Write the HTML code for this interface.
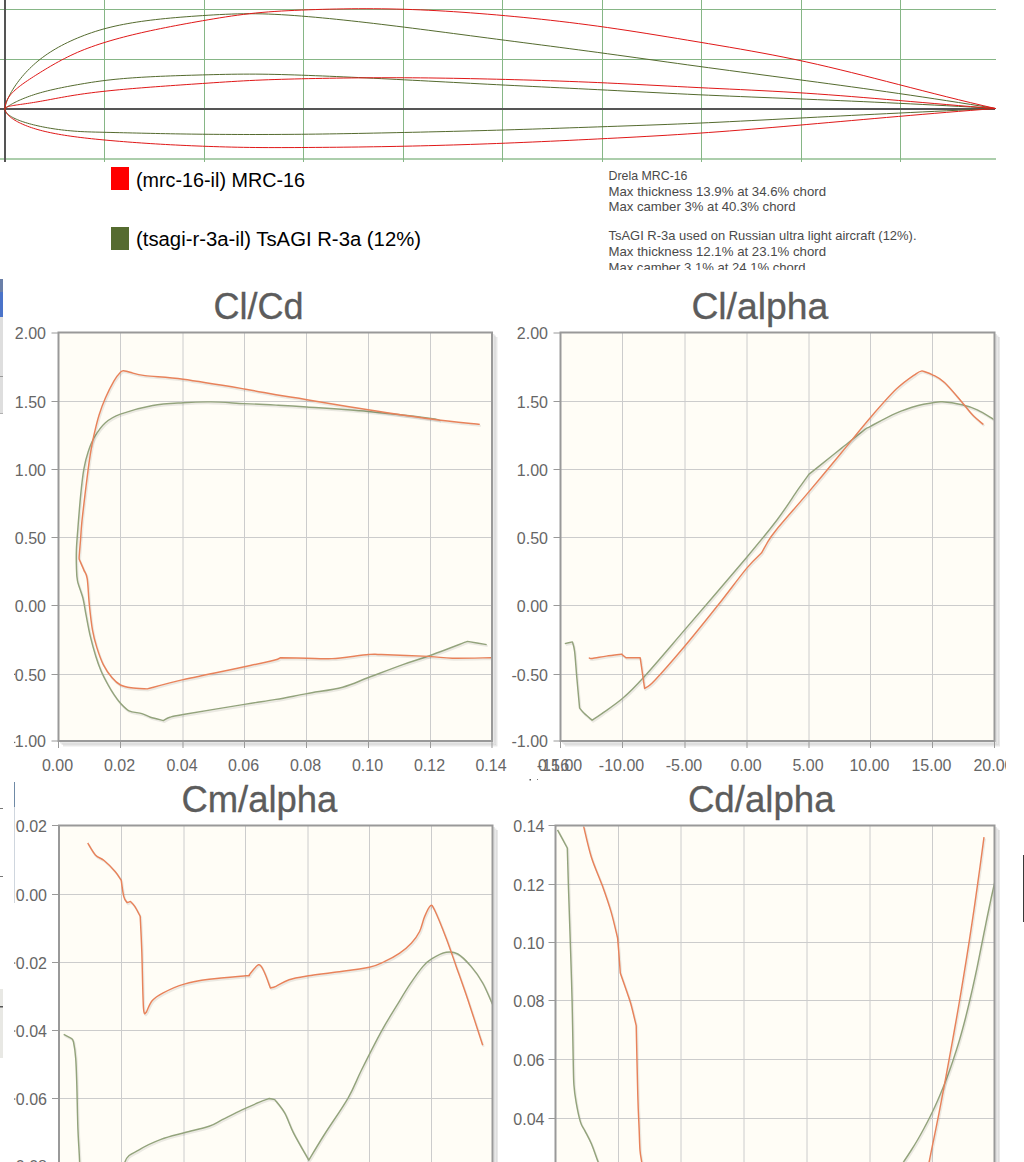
<!DOCTYPE html>
<html><head><meta charset="utf-8"><title>Airfoil comparison</title>
<style>
html,body{margin:0;padding:0;background:#fff;width:1024px;height:1162px;overflow:hidden;}
svg{display:block;font-family:"Liberation Sans",sans-serif;}
</style></head><body>
<svg width="1024" height="1162" viewBox="0 0 1024 1162">
<g id="airfoil">
<line x1="0" y1="9.5" x2="996" y2="9.5" stroke="#86b686" stroke-width="1"/>
<line x1="0" y1="59.5" x2="996" y2="59.5" stroke="#86b686" stroke-width="1"/>
<line x1="0" y1="159" x2="996" y2="159" stroke="#acceac" stroke-width="2"/>
<line x1="104.5" y1="0" x2="104.5" y2="162" stroke="#86b686" stroke-width="1"/>
<line x1="204.5" y1="0" x2="204.5" y2="162" stroke="#86b686" stroke-width="1"/>
<line x1="303.5" y1="0" x2="303.5" y2="162" stroke="#86b686" stroke-width="1"/>
<line x1="403.5" y1="0" x2="403.5" y2="162" stroke="#86b686" stroke-width="1"/>
<line x1="502.5" y1="0" x2="502.5" y2="162" stroke="#86b686" stroke-width="1"/>
<line x1="602.5" y1="0" x2="602.5" y2="162" stroke="#86b686" stroke-width="1"/>
<line x1="701.5" y1="0" x2="701.5" y2="162" stroke="#86b686" stroke-width="1"/>
<line x1="801.5" y1="0" x2="801.5" y2="162" stroke="#86b686" stroke-width="1"/>
<line x1="900.5" y1="0" x2="900.5" y2="162" stroke="#86b686" stroke-width="1"/>
<line x1="0" y1="109" x2="995" y2="109" stroke="#555555" stroke-width="2"/>
<line x1="5" y1="0" x2="5" y2="162" stroke="#555555" stroke-width="2"/>
<path d="M5,109 L5.04,108.13 L5.16,107.17 L5.35,106.11 L5.63,104.97 L5.98,103.74 L6.41,102.44 L6.92,101.06 L7.51,99.62 L8.17,98.11 L8.92,96.53 L9.74,94.91 L10.64,93.23 L11.62,91.5 L12.68,89.73 L13.82,87.92 L15.03,86.08 L16.32,84.21 L17.69,82.31 L19.14,80.39 L20.67,78.46 L22.28,76.51 L23.96,74.56 L25.73,72.6 L27.57,70.65 L29.49,68.7 L31.49,66.76 L33.56,64.84 L35.72,62.93 L37.95,61.05 L40.26,59.19 L42.65,57.37 L45.12,55.58 L47.67,53.82 L50.29,52.1 L53,50.4 L55.78,48.74 L58.64,47.11 L61.58,45.52 L64.59,43.96 L67.69,42.43 L70.86,40.94 L74.11,39.48 L77.44,38.05 L80.85,36.66 L84.34,35.3 L87.9,33.99 L91.55,32.71 L95.27,31.48 L99.07,30.3 L102.95,29.18 L106.91,28.11 L110.94,27.1 L115.06,26.14 L119.25,25.23 L123.52,24.38 L127.87,23.57 L132.29,22.81 L136.8,22.09 L141.38,21.41 L146.05,20.77 L150.79,20.16 L155.61,19.59 L160.5,19.05 L165.48,18.54 L170.53,18.06 L175.67,17.6 L180.88,17.16 L186.17,16.75 L191.53,16.35 L196.98,15.97 L202.5,15.6 L208.11,15.24 L213.79,14.9 L219.55,14.58 L225.39,14.3 L231.3,14.07 L237.3,13.89 L243.37,13.77 L249.52,13.72 L255.75,13.75 L262.06,13.86 L268.44,14.07 L274.91,14.34 L281.45,14.69 L288.07,15.1 L294.77,15.57 L301.55,16.09 L308.41,16.66 L315.34,17.26 L322.35,17.91 L329.45,18.59 L336.62,19.32 L343.86,20.07 L351.19,20.86 L358.6,21.68 L366.08,22.54 L373.64,23.42 L381.28,24.33 L389,25.27 L396.8,26.23 L404.67,27.21 L412.62,28.21 L420.66,29.24 L428.77,30.28 L436.96,31.35 L445.22,32.42 L453.57,33.52 L461.99,34.62 L470.49,35.74 L479.07,36.87 L487.73,38 L496.47,39.15 L505.28,40.3 L514.18,41.45 L523.15,42.62 L532.2,43.79 L541.33,44.98 L550.54,46.17 L559.82,47.39 L569.19,48.62 L578.63,49.87 L588.15,51.13 L597.75,52.42 L607.43,53.74 L617.18,55.08 L627.02,56.43 L636.93,57.81 L646.92,59.2 L656.99,60.6 L667.14,62.02 L677.36,63.43 L687.67,64.86 L698.05,66.28 L708.51,67.7 L719.05,69.12 L729.67,70.54 L740.36,71.97 L751.14,73.39 L761.99,74.83 L772.92,76.28 L783.93,77.73 L795.02,79.2 L806.18,80.69 L817.43,82.2 L828.75,83.72 L840.15,85.27 L851.63,86.85 L863.19,88.45 L874.83,90.08 L886.54,91.74 L898.33,93.44 L910.21,95.17 L922.16,96.94 L934.18,98.75 L946.29,100.61 L958.48,102.51 L970.74,104.45 L983.08,106.45 L995.5,108.5" fill="none" stroke="#556b2f" stroke-width="1"/>
<path d="M5,109 L5.04,108.86 L5.16,108.68 L5.35,108.45 L5.63,108.18 L5.98,107.87 L6.41,107.52 L6.92,107.13 L7.51,106.71 L8.17,106.26 L8.92,105.77 L9.74,105.26 L10.64,104.72 L11.62,104.16 L12.68,103.58 L13.82,102.97 L15.03,102.35 L16.32,101.71 L17.69,101.05 L19.14,100.38 L20.67,99.7 L22.28,99.02 L23.96,98.32 L25.73,97.63 L27.57,96.93 L29.49,96.22 L31.49,95.52 L33.56,94.83 L35.72,94.13 L37.95,93.45 L40.26,92.78 L42.65,92.11 L45.12,91.46 L47.67,90.81 L50.29,90.17 L53,89.55 L55.78,88.92 L58.64,88.31 L61.58,87.7 L64.59,87.09 L67.69,86.49 L70.86,85.89 L74.11,85.29 L77.44,84.7 L80.85,84.1 L84.34,83.51 L87.9,82.92 L91.55,82.34 L95.27,81.78 L99.07,81.24 L102.95,80.72 L106.91,80.23 L110.94,79.77 L115.06,79.34 L119.25,78.94 L123.52,78.56 L127.87,78.21 L132.29,77.88 L136.8,77.57 L141.38,77.29 L146.05,77.02 L150.79,76.77 L155.61,76.53 L160.5,76.31 L165.48,76.11 L170.53,75.91 L175.67,75.73 L180.88,75.55 L186.17,75.39 L191.53,75.22 L196.98,75.07 L202.5,74.92 L208.11,74.77 L213.79,74.62 L219.55,74.49 L225.39,74.36 L231.3,74.26 L237.3,74.18 L243.37,74.13 L249.52,74.11 L255.75,74.12 L262.06,74.18 L268.44,74.27 L274.91,74.4 L281.45,74.56 L288.07,74.74 L294.77,74.95 L301.55,75.18 L308.41,75.43 L315.34,75.69 L322.35,75.96 L329.45,76.25 L336.62,76.56 L343.86,76.88 L351.19,77.21 L358.6,77.55 L366.08,77.9 L373.64,78.27 L381.28,78.65 L389,79.03 L396.8,79.43 L404.67,79.84 L412.62,80.25 L420.66,80.67 L428.77,81.1 L436.96,81.54 L445.22,81.98 L453.57,82.42 L461.99,82.87 L470.49,83.32 L479.07,83.77 L487.73,84.22 L496.47,84.67 L505.28,85.12 L514.18,85.56 L523.15,86 L532.2,86.44 L541.33,86.89 L550.54,87.34 L559.82,87.79 L569.19,88.24 L578.63,88.71 L588.15,89.18 L597.75,89.66 L607.43,90.15 L617.18,90.65 L627.02,91.16 L636.93,91.68 L646.92,92.19 L656.99,92.71 L667.14,93.22 L677.36,93.73 L687.67,94.23 L698.05,94.72 L708.51,95.19 L719.05,95.65 L729.67,96.11 L740.36,96.55 L751.14,96.99 L761.99,97.43 L772.92,97.87 L783.93,98.31 L795.02,98.76 L806.18,99.21 L817.43,99.67 L828.75,100.15 L840.15,100.63 L851.63,101.13 L863.19,101.64 L874.83,102.17 L886.54,102.71 L898.33,103.27 L910.21,103.85 L922.16,104.45 L934.18,105.06 L946.29,105.7 L958.48,106.37 L970.74,107.05 L983.08,107.76 L995.5,108.5" fill="none" stroke="#556b2f" stroke-width="1"/>
<path d="M5,109 L5.04,109.59 L5.16,110.19 L5.35,110.79 L5.63,111.39 L5.98,111.99 L6.41,112.59 L6.92,113.2 L7.51,113.8 L8.17,114.41 L8.92,115.01 L9.74,115.62 L10.64,116.22 L11.62,116.82 L12.68,117.42 L13.82,118.02 L15.03,118.61 L16.32,119.2 L17.69,119.79 L19.14,120.37 L20.67,120.95 L22.28,121.52 L23.96,122.09 L25.73,122.65 L27.57,123.2 L29.49,123.75 L31.49,124.29 L33.56,124.82 L35.72,125.34 L37.95,125.85 L40.26,126.36 L42.65,126.85 L45.12,127.33 L47.67,127.8 L50.29,128.25 L53,128.69 L55.78,129.11 L58.64,129.5 L61.58,129.88 L64.59,130.23 L67.69,130.55 L70.86,130.84 L74.11,131.11 L77.44,131.35 L80.85,131.55 L84.34,131.72 L87.9,131.86 L91.55,131.98 L95.27,132.08 L99.07,132.17 L102.95,132.26 L106.91,132.36 L110.94,132.45 L115.06,132.55 L119.25,132.65 L123.52,132.75 L127.87,132.85 L132.29,132.96 L136.8,133.06 L141.38,133.17 L146.05,133.27 L150.79,133.37 L155.61,133.48 L160.5,133.58 L165.48,133.67 L170.53,133.77 L175.67,133.86 L180.88,133.94 L186.17,134.02 L191.53,134.1 L196.98,134.17 L202.5,134.23 L208.11,134.29 L213.79,134.34 L219.55,134.39 L225.39,134.42 L231.3,134.45 L237.3,134.48 L243.37,134.49 L249.52,134.5 L255.75,134.5 L262.06,134.49 L268.44,134.48 L274.91,134.46 L281.45,134.42 L288.07,134.38 L294.77,134.33 L301.55,134.27 L308.41,134.2 L315.34,134.11 L322.35,134.02 L329.45,133.92 L336.62,133.8 L343.86,133.68 L351.19,133.55 L358.6,133.41 L366.08,133.27 L373.64,133.12 L381.28,132.96 L389,132.8 L396.8,132.63 L404.67,132.46 L412.62,132.29 L420.66,132.11 L428.77,131.92 L436.96,131.73 L445.22,131.54 L453.57,131.33 L461.99,131.12 L470.49,130.9 L479.07,130.68 L487.73,130.44 L496.47,130.19 L505.28,129.93 L514.18,129.66 L523.15,129.38 L532.2,129.1 L541.33,128.8 L550.54,128.5 L559.82,128.19 L569.19,127.87 L578.63,127.55 L588.15,127.22 L597.75,126.9 L607.43,126.56 L617.18,126.23 L627.02,125.89 L636.93,125.54 L646.92,125.18 L656.99,124.81 L667.14,124.43 L677.36,124.02 L687.67,123.6 L698.05,123.15 L708.51,122.68 L719.05,122.19 L729.67,121.67 L740.36,121.14 L751.14,120.59 L761.99,120.04 L772.92,119.47 L783.93,118.89 L795.02,118.31 L806.18,117.73 L817.43,117.15 L828.75,116.57 L840.15,115.99 L851.63,115.41 L863.19,114.84 L874.83,114.26 L886.54,113.68 L898.33,113.11 L910.21,112.53 L922.16,111.95 L934.18,111.38 L946.29,110.8 L958.48,110.23 L970.74,109.65 L983.08,109.08 L995.5,108.5" fill="none" stroke="#556b2f" stroke-width="1"/>
<path d="M5,109 L5.04,107.7 L5.16,106.43 L5.35,105.19 L5.63,103.96 L5.98,102.76 L6.41,101.57 L6.92,100.39 L7.51,99.23 L8.17,98.08 L8.92,96.94 L9.74,95.8 L10.64,94.67 L11.62,93.54 L12.68,92.41 L13.82,91.28 L15.03,90.14 L16.32,88.99 L17.69,87.83 L19.14,86.67 L20.67,85.49 L22.28,84.29 L23.96,83.07 L25.73,81.84 L27.57,80.58 L29.49,79.3 L31.49,77.99 L33.56,76.65 L35.72,75.28 L37.95,73.88 L40.26,72.44 L42.65,70.96 L45.12,69.46 L47.67,67.92 L50.29,66.37 L53,64.8 L55.78,63.22 L58.64,61.64 L61.58,60.06 L64.59,58.49 L67.69,56.93 L70.86,55.39 L74.11,53.88 L77.44,52.39 L80.85,50.94 L84.34,49.53 L87.9,48.16 L91.55,46.82 L95.27,45.51 L99.07,44.23 L102.95,42.99 L106.91,41.76 L110.94,40.56 L115.06,39.39 L119.25,38.23 L123.52,37.1 L127.87,35.98 L132.29,34.88 L136.8,33.8 L141.38,32.74 L146.05,31.69 L150.79,30.65 L155.61,29.63 L160.5,28.62 L165.48,27.61 L170.53,26.62 L175.67,25.63 L180.88,24.65 L186.17,23.67 L191.53,22.7 L196.98,21.73 L202.5,20.76 L208.11,19.79 L213.79,18.83 L219.55,17.88 L225.39,16.96 L231.3,16.07 L237.3,15.23 L243.37,14.43 L249.52,13.69 L255.75,13.03 L262.06,12.43 L268.44,11.91 L274.91,11.45 L281.45,11.04 L288.07,10.69 L294.77,10.37 L301.55,10.08 L308.41,9.81 L315.34,9.57 L322.35,9.35 L329.45,9.16 L336.62,9 L343.86,8.88 L351.19,8.78 L358.6,8.73 L366.08,8.71 L373.64,8.74 L381.28,8.8 L389,8.92 L396.8,9.08 L404.67,9.3 L412.62,9.57 L420.66,9.89 L428.77,10.26 L436.96,10.68 L445.22,11.15 L453.57,11.66 L461.99,12.23 L470.49,12.84 L479.07,13.49 L487.73,14.19 L496.47,14.92 L505.28,15.71 L514.18,16.53 L523.15,17.39 L532.2,18.3 L541.33,19.26 L550.54,20.27 L559.82,21.34 L569.19,22.45 L578.63,23.63 L588.15,24.86 L597.75,26.16 L607.43,27.52 L617.18,28.94 L627.02,30.42 L636.93,31.95 L646.92,33.53 L656.99,35.15 L667.14,36.8 L677.36,38.48 L687.67,40.19 L698.05,41.92 L708.51,43.67 L719.05,45.44 L729.67,47.24 L740.36,49.09 L751.14,51 L761.99,52.98 L772.92,55.04 L783.93,57.21 L795.02,59.48 L806.18,61.88 L817.43,64.4 L828.75,67.03 L840.15,69.76 L851.63,72.57 L863.19,75.46 L874.83,78.41 L886.54,81.41 L898.33,84.44 L910.21,87.5 L922.16,90.57 L934.18,93.63 L946.29,96.69 L958.48,99.71 L970.74,102.7 L983.08,105.63 L995.5,108.5" fill="none" stroke="#e01818" stroke-width="1"/>
<path d="M5,109 L5.04,108.66 L5.16,108.34 L5.35,108.05 L5.63,107.77 L5.98,107.5 L6.41,107.26 L6.92,107.02 L7.51,106.8 L8.17,106.59 L8.92,106.38 L9.74,106.18 L10.64,105.99 L11.62,105.8 L12.68,105.61 L13.82,105.42 L15.03,105.23 L16.32,105.03 L17.69,104.83 L19.14,104.62 L20.67,104.4 L22.28,104.18 L23.96,103.93 L25.73,103.68 L27.57,103.41 L29.49,103.12 L31.49,102.81 L33.56,102.48 L35.72,102.13 L37.95,101.76 L40.26,101.35 L42.65,100.92 L45.12,100.47 L47.67,100 L50.29,99.5 L53,99 L55.78,98.48 L58.64,97.95 L61.58,97.41 L64.59,96.87 L67.69,96.33 L70.86,95.79 L74.11,95.26 L77.44,94.74 L80.85,94.22 L84.34,93.73 L87.9,93.24 L91.55,92.77 L95.27,92.31 L99.07,91.86 L102.95,91.42 L106.91,90.99 L110.94,90.57 L115.06,90.16 L119.25,89.76 L123.52,89.37 L127.87,88.98 L132.29,88.6 L136.8,88.23 L141.38,87.86 L146.05,87.49 L150.79,87.12 L155.61,86.76 L160.5,86.4 L165.48,86.04 L170.53,85.68 L175.67,85.32 L180.88,84.96 L186.17,84.59 L191.53,84.23 L196.98,83.85 L202.5,83.48 L208.11,83.1 L213.79,82.71 L219.55,82.33 L225.39,81.95 L231.3,81.58 L237.3,81.22 L243.37,80.88 L249.52,80.56 L255.75,80.26 L262.06,79.99 L268.44,79.74 L274.91,79.52 L281.45,79.32 L288.07,79.13 L294.77,78.96 L301.55,78.79 L308.41,78.64 L315.34,78.5 L322.35,78.36 L329.45,78.24 L336.62,78.13 L343.86,78.02 L351.19,77.94 L358.6,77.86 L366.08,77.8 L373.64,77.76 L381.28,77.73 L389,77.72 L396.8,77.73 L404.67,77.76 L412.62,77.8 L420.66,77.87 L428.77,77.95 L436.96,78.06 L445.22,78.18 L453.57,78.31 L461.99,78.46 L470.49,78.63 L479.07,78.81 L487.73,79 L496.47,79.21 L505.28,79.43 L514.18,79.67 L523.15,79.91 L532.2,80.17 L541.33,80.45 L550.54,80.75 L559.82,81.07 L569.19,81.41 L578.63,81.77 L588.15,82.15 L597.75,82.56 L607.43,83 L617.18,83.46 L627.02,83.94 L636.93,84.45 L646.92,84.96 L656.99,85.48 L667.14,86.01 L677.36,86.54 L687.67,87.06 L698.05,87.58 L708.51,88.09 L719.05,88.59 L729.67,89.08 L740.36,89.59 L751.14,90.11 L761.99,90.66 L772.92,91.23 L783.93,91.84 L795.02,92.5 L806.18,93.21 L817.43,93.98 L828.75,94.79 L840.15,95.65 L851.63,96.55 L863.19,97.49 L874.83,98.45 L886.54,99.44 L898.33,100.44 L910.21,101.46 L922.16,102.48 L934.18,103.51 L946.29,104.53 L958.48,105.55 L970.74,106.55 L983.08,107.54 L995.5,108.5" fill="none" stroke="#e01818" stroke-width="1"/>
<path d="M5,109 L5.04,109.62 L5.16,110.25 L5.35,110.9 L5.63,111.57 L5.98,112.25 L6.41,112.95 L6.92,113.65 L7.51,114.37 L8.17,115.09 L8.92,115.82 L9.74,116.56 L10.64,117.31 L11.62,118.06 L12.68,118.81 L13.82,119.57 L15.03,120.32 L16.32,121.08 L17.69,121.83 L19.14,122.58 L20.67,123.32 L22.28,124.06 L23.96,124.8 L25.73,125.52 L27.57,126.24 L29.49,126.94 L31.49,127.64 L33.56,128.32 L35.72,128.98 L37.95,129.63 L40.26,130.27 L42.65,130.89 L45.12,131.49 L47.67,132.07 L50.29,132.64 L53,133.19 L55.78,133.73 L58.64,134.25 L61.58,134.75 L64.59,135.25 L67.69,135.72 L70.86,136.19 L74.11,136.64 L77.44,137.08 L80.85,137.5 L84.34,137.92 L87.9,138.32 L91.55,138.72 L95.27,139.1 L99.07,139.48 L102.95,139.85 L106.91,140.22 L110.94,140.59 L115.06,140.94 L119.25,141.3 L123.52,141.64 L127.87,141.99 L132.29,142.32 L136.8,142.65 L141.38,142.97 L146.05,143.29 L150.79,143.6 L155.61,143.9 L160.5,144.19 L165.48,144.47 L170.53,144.75 L175.67,145.01 L180.88,145.27 L186.17,145.51 L191.53,145.75 L196.98,145.98 L202.5,146.19 L208.11,146.4 L213.79,146.59 L219.55,146.77 L225.39,146.94 L231.3,147.09 L237.3,147.22 L243.37,147.33 L249.52,147.43 L255.75,147.5 L262.06,147.55 L268.44,147.58 L274.91,147.59 L281.45,147.59 L288.07,147.57 L294.77,147.55 L301.55,147.51 L308.41,147.47 L315.34,147.42 L322.35,147.37 L329.45,147.31 L336.62,147.25 L343.86,147.17 L351.19,147.09 L358.6,147 L366.08,146.89 L373.64,146.78 L381.28,146.66 L389,146.52 L396.8,146.38 L404.67,146.21 L412.62,146.04 L420.66,145.85 L428.77,145.65 L436.96,145.44 L445.22,145.2 L453.57,144.96 L461.99,144.7 L470.49,144.42 L479.07,144.13 L487.73,143.82 L496.47,143.5 L505.28,143.16 L514.18,142.8 L523.15,142.43 L532.2,142.04 L541.33,141.64 L550.54,141.23 L559.82,140.8 L569.19,140.36 L578.63,139.9 L588.15,139.44 L597.75,138.96 L607.43,138.48 L617.18,137.98 L627.02,137.47 L636.93,136.94 L646.92,136.39 L656.99,135.82 L667.14,135.22 L677.36,134.59 L687.67,133.93 L698.05,133.24 L708.51,132.51 L719.05,131.74 L729.67,130.93 L740.36,130.09 L751.14,129.23 L761.99,128.33 L772.92,127.42 L783.93,126.48 L795.02,125.52 L806.18,124.55 L817.43,123.56 L828.75,122.56 L840.15,121.55 L851.63,120.54 L863.19,119.51 L874.83,118.49 L886.54,117.46 L898.33,116.44 L910.21,115.41 L922.16,114.4 L934.18,113.38 L946.29,112.38 L958.48,111.39 L970.74,110.41 L983.08,109.45 L995.5,108.5" fill="none" stroke="#e01818" stroke-width="1"/>
</g>
<rect x="111" y="167" width="18" height="23" fill="#ff0000"/>
<rect x="111" y="227" width="18" height="23" fill="#556b2f"/>
<text x="136" y="186.5" font-size="20" fill="#000" textLength="169" lengthAdjust="spacingAndGlyphs">(mrc-16-il) MRC-16</text>
<text x="136" y="246" font-size="20" fill="#000" textLength="285" lengthAdjust="spacingAndGlyphs">(tsagi-r-3a-il) TsAGI R-3a (12%)</text>
<svg x="600" y="160" width="400" height="110" overflow="hidden">
<text x="8.5" y="19.8" font-size="12.6" fill="#4a4a4a" textLength="79" lengthAdjust="spacingAndGlyphs">Drela MRC-16</text>
<text x="8.5" y="35.8" font-size="12.6" fill="#4a4a4a" textLength="217.6" lengthAdjust="spacingAndGlyphs">Max thickness 13.9% at 34.6% chord</text>
<text x="8.5" y="51.4" font-size="12.6" fill="#4a4a4a" textLength="187" lengthAdjust="spacingAndGlyphs">Max camber 3% at 40.3% chord</text>
<text x="8.5" y="79.8" font-size="12.6" fill="#4a4a4a" textLength="308" lengthAdjust="spacingAndGlyphs">TsAGI R-3a used on Russian ultra light aircraft (12%).</text>
<text x="8.5" y="96.1" font-size="12.6" fill="#4a4a4a" textLength="217.6" lengthAdjust="spacingAndGlyphs">Max thickness 12.1% at 23.1% chord</text>
<text x="8.5" y="111.7" font-size="12.6" fill="#4a4a4a" textLength="197" lengthAdjust="spacingAndGlyphs">Max camber 3.1% at 24.1% chord</text>
</svg>
<defs>
<clipPath id="c1"><rect x="59" y="334" width="432" height="406"/></clipPath>
<clipPath id="c2"><rect x="561.5" y="334" width="432" height="406"/></clipPath>
<clipPath id="c3"><rect x="60" y="826.5" width="432" height="400"/></clipPath>
<clipPath id="c4"><rect x="556" y="826.5" width="438" height="400"/></clipPath>
</defs>
<path d="M58.5,741 L492,741 L492,332.5" fill="none" stroke="rgba(0,0,0,0.09)" stroke-width="2" transform="translate(1.5,1.5)"/>
<path d="M58.5,741 L492,741 L492,332.5" fill="none" stroke="rgba(0,0,0,0.09)" stroke-width="2" transform="translate(3,3)"/>
<path d="M58.5,741 L492,741 L492,332.5" fill="none" stroke="rgba(0,0,0,0.09)" stroke-width="2" transform="translate(4.5,4.5)"/>
<rect x="58.5" y="332.5" width="433.5" height="408.5" fill="#fffdf6"/>
<line x1="120.5" y1="332.5" x2="120.5" y2="741" stroke="#cccccc" stroke-width="1"/>
<line x1="183" y1="332.5" x2="183" y2="741" stroke="#cccccc" stroke-width="1"/>
<line x1="244.5" y1="332.5" x2="244.5" y2="741" stroke="#cccccc" stroke-width="1"/>
<line x1="306.5" y1="332.5" x2="306.5" y2="741" stroke="#cccccc" stroke-width="1"/>
<line x1="368.5" y1="332.5" x2="368.5" y2="741" stroke="#cccccc" stroke-width="1"/>
<line x1="430.5" y1="332.5" x2="430.5" y2="741" stroke="#cccccc" stroke-width="1"/>
<line x1="58.5" y1="401.5" x2="492" y2="401.5" stroke="#cccccc" stroke-width="1"/>
<line x1="58.5" y1="469.5" x2="492" y2="469.5" stroke="#cccccc" stroke-width="1"/>
<line x1="58.5" y1="537.5" x2="492" y2="537.5" stroke="#cccccc" stroke-width="1"/>
<line x1="58.5" y1="605.5" x2="492" y2="605.5" stroke="#cccccc" stroke-width="1"/>
<line x1="58.5" y1="674.5" x2="492" y2="674.5" stroke="#cccccc" stroke-width="1"/>
<path d="M560.5,741 L994.5,741 L994.5,332.5" fill="none" stroke="rgba(0,0,0,0.09)" stroke-width="2" transform="translate(1.5,1.5)"/>
<path d="M560.5,741 L994.5,741 L994.5,332.5" fill="none" stroke="rgba(0,0,0,0.09)" stroke-width="2" transform="translate(3,3)"/>
<path d="M560.5,741 L994.5,741 L994.5,332.5" fill="none" stroke="rgba(0,0,0,0.09)" stroke-width="2" transform="translate(4.5,4.5)"/>
<rect x="560.5" y="332.5" width="434.0" height="408.5" fill="#fffdf6"/>
<line x1="622.5" y1="332.5" x2="622.5" y2="741" stroke="#cccccc" stroke-width="1"/>
<line x1="685" y1="332.5" x2="685" y2="741" stroke="#cccccc" stroke-width="1"/>
<line x1="747" y1="332.5" x2="747" y2="741" stroke="#cccccc" stroke-width="1"/>
<line x1="809" y1="332.5" x2="809" y2="741" stroke="#cccccc" stroke-width="1"/>
<line x1="870.5" y1="332.5" x2="870.5" y2="741" stroke="#cccccc" stroke-width="1"/>
<line x1="932.5" y1="332.5" x2="932.5" y2="741" stroke="#cccccc" stroke-width="1"/>
<line x1="560.5" y1="401.5" x2="994.5" y2="401.5" stroke="#cccccc" stroke-width="1"/>
<line x1="560.5" y1="469.5" x2="994.5" y2="469.5" stroke="#cccccc" stroke-width="1"/>
<line x1="560.5" y1="537.5" x2="994.5" y2="537.5" stroke="#cccccc" stroke-width="1"/>
<line x1="560.5" y1="605.5" x2="994.5" y2="605.5" stroke="#cccccc" stroke-width="1"/>
<line x1="560.5" y1="674.5" x2="994.5" y2="674.5" stroke="#cccccc" stroke-width="1"/>
<path d="M59,1168 L492.5,1168 L492.5,825.5" fill="none" stroke="rgba(0,0,0,0.09)" stroke-width="2" transform="translate(1.5,1.5)"/>
<path d="M59,1168 L492.5,1168 L492.5,825.5" fill="none" stroke="rgba(0,0,0,0.09)" stroke-width="2" transform="translate(3,3)"/>
<path d="M59,1168 L492.5,1168 L492.5,825.5" fill="none" stroke="rgba(0,0,0,0.09)" stroke-width="2" transform="translate(4.5,4.5)"/>
<rect x="59" y="825.5" width="433.5" height="342.5" fill="#fffdf6"/>
<line x1="121.5" y1="825.5" x2="121.5" y2="1168" stroke="#cccccc" stroke-width="1"/>
<line x1="184" y1="825.5" x2="184" y2="1168" stroke="#cccccc" stroke-width="1"/>
<line x1="245.5" y1="825.5" x2="245.5" y2="1168" stroke="#cccccc" stroke-width="1"/>
<line x1="308" y1="825.5" x2="308" y2="1168" stroke="#cccccc" stroke-width="1"/>
<line x1="369.5" y1="825.5" x2="369.5" y2="1168" stroke="#cccccc" stroke-width="1"/>
<line x1="431.5" y1="825.5" x2="431.5" y2="1168" stroke="#cccccc" stroke-width="1"/>
<line x1="59" y1="894.5" x2="492.5" y2="894.5" stroke="#cccccc" stroke-width="1"/>
<line x1="59" y1="962.5" x2="492.5" y2="962.5" stroke="#cccccc" stroke-width="1"/>
<line x1="59" y1="1030.5" x2="492.5" y2="1030.5" stroke="#cccccc" stroke-width="1"/>
<line x1="59" y1="1098.5" x2="492.5" y2="1098.5" stroke="#cccccc" stroke-width="1"/>
<path d="M555.5,1177 L994.5,1177 L994.5,825.5" fill="none" stroke="rgba(0,0,0,0.09)" stroke-width="2" transform="translate(1.5,1.5)"/>
<path d="M555.5,1177 L994.5,1177 L994.5,825.5" fill="none" stroke="rgba(0,0,0,0.09)" stroke-width="2" transform="translate(3,3)"/>
<path d="M555.5,1177 L994.5,1177 L994.5,825.5" fill="none" stroke="rgba(0,0,0,0.09)" stroke-width="2" transform="translate(4.5,4.5)"/>
<rect x="555.5" y="825.5" width="439.0" height="351.5" fill="#fffdf6"/>
<line x1="618.5" y1="825.5" x2="618.5" y2="1177" stroke="#cccccc" stroke-width="1"/>
<line x1="681" y1="825.5" x2="681" y2="1177" stroke="#cccccc" stroke-width="1"/>
<line x1="744" y1="825.5" x2="744" y2="1177" stroke="#cccccc" stroke-width="1"/>
<line x1="807" y1="825.5" x2="807" y2="1177" stroke="#cccccc" stroke-width="1"/>
<line x1="870" y1="825.5" x2="870" y2="1177" stroke="#cccccc" stroke-width="1"/>
<line x1="932.5" y1="825.5" x2="932.5" y2="1177" stroke="#cccccc" stroke-width="1"/>
<line x1="555.5" y1="884.5" x2="994.5" y2="884.5" stroke="#cccccc" stroke-width="1"/>
<line x1="555.5" y1="942.5" x2="994.5" y2="942.5" stroke="#cccccc" stroke-width="1"/>
<line x1="555.5" y1="1000.5" x2="994.5" y2="1000.5" stroke="#cccccc" stroke-width="1"/>
<line x1="555.5" y1="1059.5" x2="994.5" y2="1059.5" stroke="#cccccc" stroke-width="1"/>
<line x1="555.5" y1="1118.5" x2="994.5" y2="1118.5" stroke="#cccccc" stroke-width="1"/>
<path d="M440,420.5 C438.47,420.15 442.78,419.9 430.8,418.4 C418.82,416.9 388.75,413.4 368.1,411.5 C347.45,409.6 322.25,408.07 306.9,407 C291.55,405.93 286.42,405.67 276,405.1 C265.58,404.53 255.28,404.13 244.4,403.6 C233.52,403.07 220.9,402.05 210.7,401.9 C200.5,401.75 192.87,402.1 183.2,402.7 C173.53,403.3 163.16,403.6 152.7,405.5 C142.24,407.4 128.33,411.23 120.45,414.1 C112.57,416.97 109.69,418.93 105.4,422.7 C101.11,426.47 97.57,431.87 94.7,436.7 C91.83,441.53 90,446.33 88.2,451.7 C86.4,457.07 85.15,461.73 83.9,468.9 C82.65,476.07 81.77,483.95 80.7,494.7 C79.63,505.45 78.22,524.18 77.5,533.4 C76.78,542.62 76.58,544.6 76.4,550 C76.22,555.4 76.22,560.67 76.4,565.8 C76.58,570.93 76.42,575.43 77.5,580.8 C78.58,586.17 81.47,592.27 82.9,598 C84.33,603.73 84.85,608.75 86.1,615.2 C87.35,621.65 88.8,629.9 90.4,636.7 C92,643.5 93.92,650.28 95.7,656 C97.48,661.72 99.12,666.33 101.1,671 C103.08,675.67 105.45,680.05 107.6,684 C109.75,687.95 111.85,691.48 114,694.7 C116.15,697.92 118,700.62 120.5,703.3 C123,705.98 125.43,709.08 129,710.8 C132.57,712.52 138.32,712.53 141.9,713.6 C145.48,714.67 146.92,716.05 150.5,717.2 C154.08,718.35 161.25,719.95 163.4,720.5 C164.48,719.95 166.6,718.2 169.9,717.2 C173.2,716.2 170.78,716.63 183.2,714.5 C195.62,712.37 228.93,706.92 244.4,704.4 C259.87,701.88 265.58,701.2 276,699.4 C286.42,697.6 295.78,695.63 306.9,693.6 C318.02,691.57 332.43,689.88 342.7,687.2 C352.97,684.52 358.47,681.27 368.5,677.5 C378.53,673.73 392.87,668.18 402.9,664.6 C412.93,661.02 417.95,659.87 428.7,656 C439.45,652.13 460.95,643.83 467.4,641.4 C470.62,641.93 483.48,644.07 486.7,644.6" fill="none" stroke="rgba(0,0,0,0.08)" stroke-width="2" transform="translate(1,1.5)" clip-path="url(#c1)" stroke-linejoin="round"/>
<path d="M440,420.5 C438.47,420.15 442.78,419.9 430.8,418.4 C418.82,416.9 388.75,413.4 368.1,411.5 C347.45,409.6 322.25,408.07 306.9,407 C291.55,405.93 286.42,405.67 276,405.1 C265.58,404.53 255.28,404.13 244.4,403.6 C233.52,403.07 220.9,402.05 210.7,401.9 C200.5,401.75 192.87,402.1 183.2,402.7 C173.53,403.3 163.16,403.6 152.7,405.5 C142.24,407.4 128.33,411.23 120.45,414.1 C112.57,416.97 109.69,418.93 105.4,422.7 C101.11,426.47 97.57,431.87 94.7,436.7 C91.83,441.53 90,446.33 88.2,451.7 C86.4,457.07 85.15,461.73 83.9,468.9 C82.65,476.07 81.77,483.95 80.7,494.7 C79.63,505.45 78.22,524.18 77.5,533.4 C76.78,542.62 76.58,544.6 76.4,550 C76.22,555.4 76.22,560.67 76.4,565.8 C76.58,570.93 76.42,575.43 77.5,580.8 C78.58,586.17 81.47,592.27 82.9,598 C84.33,603.73 84.85,608.75 86.1,615.2 C87.35,621.65 88.8,629.9 90.4,636.7 C92,643.5 93.92,650.28 95.7,656 C97.48,661.72 99.12,666.33 101.1,671 C103.08,675.67 105.45,680.05 107.6,684 C109.75,687.95 111.85,691.48 114,694.7 C116.15,697.92 118,700.62 120.5,703.3 C123,705.98 125.43,709.08 129,710.8 C132.57,712.52 138.32,712.53 141.9,713.6 C145.48,714.67 146.92,716.05 150.5,717.2 C154.08,718.35 161.25,719.95 163.4,720.5 C164.48,719.95 166.6,718.2 169.9,717.2 C173.2,716.2 170.78,716.63 183.2,714.5 C195.62,712.37 228.93,706.92 244.4,704.4 C259.87,701.88 265.58,701.2 276,699.4 C286.42,697.6 295.78,695.63 306.9,693.6 C318.02,691.57 332.43,689.88 342.7,687.2 C352.97,684.52 358.47,681.27 368.5,677.5 C378.53,673.73 392.87,668.18 402.9,664.6 C412.93,661.02 417.95,659.87 428.7,656 C439.45,652.13 460.95,643.83 467.4,641.4 C470.62,641.93 483.48,644.07 486.7,644.6" fill="none" stroke="#93a37c" stroke-width="1.45" clip-path="url(#c1)" stroke-linejoin="round"/>
<path d="M479.8,424.4 C471.63,423.5 449.42,421.43 430.8,419 C412.18,416.57 388.75,413.02 368.1,409.8 C347.45,406.58 322.25,402.2 306.9,399.7 C291.55,397.2 286.42,396.58 276,394.8 C265.58,393.02 259.87,391.58 244.4,389 C228.93,386.42 199.77,381.53 183.2,379.3 C166.63,377.07 153.87,376.77 145,375.6 C136.13,374.43 133.55,373.12 130,372.3 C126.45,371.48 125.29,370.72 123.7,370.7 C122.11,370.68 122.07,370.52 120.45,372.2 C118.83,373.88 116.51,376.5 114,380.8 C111.49,385.1 107.9,392.27 105.4,398 C102.9,403.73 100.97,408.75 99,415.2 C97.03,421.65 95.03,430.25 93.6,436.7 C92.17,443.15 91.3,448.53 90.4,453.9 C89.5,459.27 89.1,462.1 88.2,468.9 C87.3,475.7 86.07,485.75 85,494.7 C83.93,503.65 82.55,515.05 81.8,522.6 C81.05,530.15 80.93,534.43 80.5,540 C80.07,545.57 79.42,552.78 79.2,556 C78.98,559.22 79.2,558.75 79.2,559.3 C79.98,561.1 82.57,566.87 83.9,570.1 C85.23,573.33 86.3,572.97 87.2,578.7 C88.1,584.43 88.42,595.92 89.3,604.5 C90.18,613.08 91.25,623.05 92.5,630.2 C93.75,637.35 95,641.67 96.8,647.4 C98.6,653.13 100.78,659.58 103.3,664.6 C105.82,669.62 109.03,674.1 111.9,677.5 C114.77,680.9 117.28,683.28 120.5,685 C123.72,686.72 126.73,687.15 131.2,687.8 C135.67,688.45 144.62,688.72 147.3,688.9 C153.28,687.35 167.02,683.28 183.2,679.6 C199.38,675.92 229.27,670.02 244.4,666.8 C259.53,663.58 268,661.82 274,660.3 C280,658.78 279.33,658.13 280.4,657.7 C284.82,657.78 298.3,658.05 306.9,658.2 C315.5,658.35 321.73,659.22 332,658.6 C342.27,657.98 360.27,655.18 368.5,654.5 C376.73,653.82 371.37,654.18 381.4,654.5 C391.43,654.82 416.88,655.78 428.7,656.4 C440.52,657.02 441.92,657.98 452.3,658.2 C462.68,658.42 484.55,657.78 491,657.7" fill="none" stroke="rgba(0,0,0,0.08)" stroke-width="2" transform="translate(1,1.5)" clip-path="url(#c1)" stroke-linejoin="round"/>
<path d="M479.8,424.4 C471.63,423.5 449.42,421.43 430.8,419 C412.18,416.57 388.75,413.02 368.1,409.8 C347.45,406.58 322.25,402.2 306.9,399.7 C291.55,397.2 286.42,396.58 276,394.8 C265.58,393.02 259.87,391.58 244.4,389 C228.93,386.42 199.77,381.53 183.2,379.3 C166.63,377.07 153.87,376.77 145,375.6 C136.13,374.43 133.55,373.12 130,372.3 C126.45,371.48 125.29,370.72 123.7,370.7 C122.11,370.68 122.07,370.52 120.45,372.2 C118.83,373.88 116.51,376.5 114,380.8 C111.49,385.1 107.9,392.27 105.4,398 C102.9,403.73 100.97,408.75 99,415.2 C97.03,421.65 95.03,430.25 93.6,436.7 C92.17,443.15 91.3,448.53 90.4,453.9 C89.5,459.27 89.1,462.1 88.2,468.9 C87.3,475.7 86.07,485.75 85,494.7 C83.93,503.65 82.55,515.05 81.8,522.6 C81.05,530.15 80.93,534.43 80.5,540 C80.07,545.57 79.42,552.78 79.2,556 C78.98,559.22 79.2,558.75 79.2,559.3 C79.98,561.1 82.57,566.87 83.9,570.1 C85.23,573.33 86.3,572.97 87.2,578.7 C88.1,584.43 88.42,595.92 89.3,604.5 C90.18,613.08 91.25,623.05 92.5,630.2 C93.75,637.35 95,641.67 96.8,647.4 C98.6,653.13 100.78,659.58 103.3,664.6 C105.82,669.62 109.03,674.1 111.9,677.5 C114.77,680.9 117.28,683.28 120.5,685 C123.72,686.72 126.73,687.15 131.2,687.8 C135.67,688.45 144.62,688.72 147.3,688.9 C153.28,687.35 167.02,683.28 183.2,679.6 C199.38,675.92 229.27,670.02 244.4,666.8 C259.53,663.58 268,661.82 274,660.3 C280,658.78 279.33,658.13 280.4,657.7 C284.82,657.78 298.3,658.05 306.9,658.2 C315.5,658.35 321.73,659.22 332,658.6 C342.27,657.98 360.27,655.18 368.5,654.5 C376.73,653.82 371.37,654.18 381.4,654.5 C391.43,654.82 416.88,655.78 428.7,656.4 C440.52,657.02 441.92,657.98 452.3,658.2 C462.68,658.42 484.55,657.78 491,657.7" fill="none" stroke="#e8825a" stroke-width="1.45" clip-path="url(#c1)" stroke-linejoin="round"/>
<path d="M564.8,643.6 C566.07,643.32 571.13,642.18 572.4,641.9 C572.77,643.47 573.87,645.37 574.6,651.3 C575.33,657.23 575.97,668.03 576.8,677.5 C577.63,686.97 579.13,703 579.6,708.1 C580.4,709.02 582.32,711.58 584.4,713.6 C586.48,715.62 590.82,719.1 592.1,720.2 C593.73,719.1 596.8,717.25 601.9,713.6 C607,709.95 615.77,704.32 622.7,698.3 C629.63,692.28 633.1,688.98 643.5,677.5 C653.9,666.02 667.88,649.45 685.1,629.4 C702.32,609.35 731.48,575.43 746.8,557.2 C762.12,538.97 768.48,531.25 777,520 C785.52,508.75 792.6,497.3 797.9,489.7 C803.2,482.1 806.98,476.95 808.8,474.4 C810.63,472.93 814.33,469.98 819.8,465.6 C825.27,461.22 834.32,453.93 841.6,448.1 C848.88,442.27 858.68,434.23 863.5,430.6 C868.32,426.97 865.03,429.22 870.5,426.3 C875.97,423.38 888.35,416.57 896.3,413.1 C904.25,409.63 912.15,407.22 918.2,405.5 C924.25,403.78 928.58,403.42 932.6,402.8 C936.62,402.18 937.4,401.47 942.3,401.8 C947.2,402.13 956.17,403.47 962,404.8 C967.83,406.13 971.97,407.35 977.3,409.8 C982.63,412.25 991.22,417.88 994,419.5" fill="none" stroke="rgba(0,0,0,0.08)" stroke-width="2" transform="translate(1,1.5)" clip-path="url(#c2)" stroke-linejoin="round"/>
<path d="M564.8,643.6 C566.07,643.32 571.13,642.18 572.4,641.9 C572.77,643.47 573.87,645.37 574.6,651.3 C575.33,657.23 575.97,668.03 576.8,677.5 C577.63,686.97 579.13,703 579.6,708.1 C580.4,709.02 582.32,711.58 584.4,713.6 C586.48,715.62 590.82,719.1 592.1,720.2 C593.73,719.1 596.8,717.25 601.9,713.6 C607,709.95 615.77,704.32 622.7,698.3 C629.63,692.28 633.1,688.98 643.5,677.5 C653.9,666.02 667.88,649.45 685.1,629.4 C702.32,609.35 731.48,575.43 746.8,557.2 C762.12,538.97 768.48,531.25 777,520 C785.52,508.75 792.6,497.3 797.9,489.7 C803.2,482.1 806.98,476.95 808.8,474.4 C810.63,472.93 814.33,469.98 819.8,465.6 C825.27,461.22 834.32,453.93 841.6,448.1 C848.88,442.27 858.68,434.23 863.5,430.6 C868.32,426.97 865.03,429.22 870.5,426.3 C875.97,423.38 888.35,416.57 896.3,413.1 C904.25,409.63 912.15,407.22 918.2,405.5 C924.25,403.78 928.58,403.42 932.6,402.8 C936.62,402.18 937.4,401.47 942.3,401.8 C947.2,402.13 956.17,403.47 962,404.8 C967.83,406.13 971.97,407.35 977.3,409.8 C982.63,412.25 991.22,417.88 994,419.5" fill="none" stroke="#93a37c" stroke-width="1.45" clip-path="url(#c2)" stroke-linejoin="round"/>
<path d="M588.8,657.8 C589.35,657.92 589.18,658.78 592.1,658.5 C595.02,658.22 601.38,656.83 606.3,656.1 C611.22,655.37 619.05,654.43 621.6,654.1 C622.33,654.72 625.27,657.18 626,657.8 C628.37,657.8 637.83,657.8 640.2,657.8 C640.57,660.35 641.67,667.98 642.4,673.1 C643.13,678.22 644.23,685.93 644.6,688.5 C646.23,687.22 647.65,687.92 654.4,680.8 C661.15,673.68 674.52,658.38 685.1,645.8 C695.68,633.22 707.62,618.25 717.9,605.3 C728.18,592.35 739.52,576.85 746.8,568.1 C754.08,559.35 759.13,555.35 761.6,552.8 C762.52,551.17 766.18,544.63 767.1,543 C768.58,540.87 769.05,538.72 776,530.2 C782.95,521.68 797.87,504.85 808.8,491.9 C819.73,478.95 831.32,464.9 841.6,452.5 C851.88,440.1 861.38,428.07 870.5,417.5 C879.62,406.93 888.72,396.38 896.3,389.1 C903.88,381.82 911.7,376.83 916,373.8 C920.3,370.77 921.08,371.38 922.1,370.9 C923.85,371.55 928.87,372.87 932.6,374.8 C936.33,376.73 939.6,377.93 944.5,382.5 C949.4,387.07 957.27,396.73 962,402.2 C966.73,407.67 969.33,411.58 972.9,415.3 C976.47,419.02 981.65,422.97 983.4,424.5" fill="none" stroke="rgba(0,0,0,0.08)" stroke-width="2" transform="translate(1,1.5)" clip-path="url(#c2)" stroke-linejoin="round"/>
<path d="M588.8,657.8 C589.35,657.92 589.18,658.78 592.1,658.5 C595.02,658.22 601.38,656.83 606.3,656.1 C611.22,655.37 619.05,654.43 621.6,654.1 C622.33,654.72 625.27,657.18 626,657.8 C628.37,657.8 637.83,657.8 640.2,657.8 C640.57,660.35 641.67,667.98 642.4,673.1 C643.13,678.22 644.23,685.93 644.6,688.5 C646.23,687.22 647.65,687.92 654.4,680.8 C661.15,673.68 674.52,658.38 685.1,645.8 C695.68,633.22 707.62,618.25 717.9,605.3 C728.18,592.35 739.52,576.85 746.8,568.1 C754.08,559.35 759.13,555.35 761.6,552.8 C762.52,551.17 766.18,544.63 767.1,543 C768.58,540.87 769.05,538.72 776,530.2 C782.95,521.68 797.87,504.85 808.8,491.9 C819.73,478.95 831.32,464.9 841.6,452.5 C851.88,440.1 861.38,428.07 870.5,417.5 C879.62,406.93 888.72,396.38 896.3,389.1 C903.88,381.82 911.7,376.83 916,373.8 C920.3,370.77 921.08,371.38 922.1,370.9 C923.85,371.55 928.87,372.87 932.6,374.8 C936.33,376.73 939.6,377.93 944.5,382.5 C949.4,387.07 957.27,396.73 962,402.2 C966.73,407.67 969.33,411.58 972.9,415.3 C976.47,419.02 981.65,422.97 983.4,424.5" fill="none" stroke="#e8825a" stroke-width="1.45" clip-path="url(#c2)" stroke-linejoin="round"/>
<path d="M63.7,1034.4 C64.97,1035.05 70.03,1037.65 71.3,1038.3 C71.67,1038.92 72.77,1038.65 73.5,1042 C74.23,1045.35 75.15,1051.28 75.7,1058.4 C76.25,1065.52 76.43,1073.03 76.8,1084.7 C77.17,1096.37 77.43,1115.52 77.9,1128.4 C78.37,1141.28 79.17,1150.07 79.6,1162 C80.03,1173.93 80.35,1193.67 80.5,1200 C87.08,1200 113.42,1200 120,1200 C120.82,1193.67 121.72,1170.35 124.9,1162 C128.08,1153.65 133.08,1153.67 139.1,1149.9 C145.12,1146.13 153.48,1142.25 161,1139.4 C168.52,1136.55 176.18,1134.98 184.2,1132.8 C192.22,1130.62 202.75,1128.48 209.1,1126.3 C215.45,1124.12 216.82,1122.43 222.3,1119.7 C227.78,1116.97 235.8,1112.82 242,1109.9 C248.2,1106.98 254.95,1104.1 259.5,1102.2 C264.05,1100.3 267.67,1099.12 269.3,1098.5 C270.22,1098.68 273.88,1099.42 274.8,1099.6 C276.47,1101.85 281.68,1107.57 284.8,1113.1 C287.92,1118.63 289.5,1124.95 293.5,1132.8 C297.5,1140.65 306.25,1155.63 308.8,1160.2 C311.35,1156 317.53,1145.4 324.1,1135 C330.67,1124.6 341.97,1108.63 348.2,1097.8 C354.43,1086.97 355.95,1081.12 361.5,1070 C367.05,1058.88 375.68,1041.73 381.5,1031.1 C387.32,1020.47 391.7,1013.93 396.4,1006.2 C401.1,998.47 405.27,991.33 409.7,984.7 C414.13,978.07 419.35,970.7 423,966.4 C426.65,962.1 427.73,961.25 431.6,958.9 C435.47,956.55 441.83,953.12 446.2,952.3 C450.57,951.48 453.65,951.65 457.8,954 C461.95,956.35 466.95,961.57 471.1,966.4 C475.25,971.23 479.23,976.92 482.7,983 C486.17,989.08 489.68,998.07 491.9,1002.9 C494.12,1007.73 495.32,1010.48 496,1012" fill="none" stroke="rgba(0,0,0,0.08)" stroke-width="2" transform="translate(1,1.5)" clip-path="url(#c3)" stroke-linejoin="round"/>
<path d="M63.7,1034.4 C64.97,1035.05 70.03,1037.65 71.3,1038.3 C71.67,1038.92 72.77,1038.65 73.5,1042 C74.23,1045.35 75.15,1051.28 75.7,1058.4 C76.25,1065.52 76.43,1073.03 76.8,1084.7 C77.17,1096.37 77.43,1115.52 77.9,1128.4 C78.37,1141.28 79.17,1150.07 79.6,1162 C80.03,1173.93 80.35,1193.67 80.5,1200 C87.08,1200 113.42,1200 120,1200 C120.82,1193.67 121.72,1170.35 124.9,1162 C128.08,1153.65 133.08,1153.67 139.1,1149.9 C145.12,1146.13 153.48,1142.25 161,1139.4 C168.52,1136.55 176.18,1134.98 184.2,1132.8 C192.22,1130.62 202.75,1128.48 209.1,1126.3 C215.45,1124.12 216.82,1122.43 222.3,1119.7 C227.78,1116.97 235.8,1112.82 242,1109.9 C248.2,1106.98 254.95,1104.1 259.5,1102.2 C264.05,1100.3 267.67,1099.12 269.3,1098.5 C270.22,1098.68 273.88,1099.42 274.8,1099.6 C276.47,1101.85 281.68,1107.57 284.8,1113.1 C287.92,1118.63 289.5,1124.95 293.5,1132.8 C297.5,1140.65 306.25,1155.63 308.8,1160.2 C311.35,1156 317.53,1145.4 324.1,1135 C330.67,1124.6 341.97,1108.63 348.2,1097.8 C354.43,1086.97 355.95,1081.12 361.5,1070 C367.05,1058.88 375.68,1041.73 381.5,1031.1 C387.32,1020.47 391.7,1013.93 396.4,1006.2 C401.1,998.47 405.27,991.33 409.7,984.7 C414.13,978.07 419.35,970.7 423,966.4 C426.65,962.1 427.73,961.25 431.6,958.9 C435.47,956.55 441.83,953.12 446.2,952.3 C450.57,951.48 453.65,951.65 457.8,954 C461.95,956.35 466.95,961.57 471.1,966.4 C475.25,971.23 479.23,976.92 482.7,983 C486.17,989.08 489.68,998.07 491.9,1002.9 C494.12,1007.73 495.32,1010.48 496,1012" fill="none" stroke="#93a37c" stroke-width="1.45" clip-path="url(#c3)" stroke-linejoin="round"/>
<path d="M87.7,843 C88.98,845 92.67,852.08 95.4,855 C98.13,857.92 100.82,857.77 104.1,860.5 C107.38,863.23 112.25,868.12 115.1,871.4 C117.95,874.68 120.18,878.73 121.2,880.2 C121.63,882.93 122.82,892.85 123.8,896.6 C124.78,900.35 126.55,901.68 127.1,902.7 C127.65,902.48 129.85,901.62 130.4,901.4 C131.13,902.23 133.17,903.92 134.8,906.4 C136.43,908.88 139.3,914.65 140.2,916.3 C140.47,922.13 141.25,936 141.8,951.3 C142.35,966.6 142.73,997.97 143.5,1008.1 C144.27,1018.23 145.92,1011.43 146.4,1012.1 C147.38,1010.17 149.5,1003.72 152.3,1000.5 C155.1,997.28 157.88,995.53 163.2,992.8 C168.52,990.07 176.55,986.35 184.2,984.1 C191.85,981.85 198.85,980.68 209.1,979.3 C219.35,977.92 239.13,976.38 245.7,975.8 C252.27,975.22 248.03,975.8 248.5,975.8 C250.15,973.97 255.85,965.6 258.4,964.8 C260.95,964 261.8,967.13 263.8,971 C265.8,974.87 269.3,985.17 270.4,988 C271.33,987.72 272.88,987.68 276,986.3 C279.12,984.92 283.7,981.45 289.1,979.7 C294.5,977.95 301.1,977 308.4,975.8 C315.7,974.6 322.75,973.93 332.9,972.5 C343.05,971.07 360.65,969.05 369.3,967.2 C377.95,965.35 379.73,963.75 384.8,961.4 C389.87,959.05 395.28,956.13 399.7,953.1 C404.12,950.07 407.98,946.8 411.3,943.2 C414.62,939.6 417.38,935.93 419.6,931.5 C421.82,927.07 422.8,920.88 424.6,916.6 C426.4,912.32 428.73,906.9 430.4,905.8 C432.07,904.7 431.97,904.6 434.6,910 C437.23,915.4 442.6,928.8 446.2,938.2 C449.8,947.6 452.6,956.17 456.2,966.4 C459.8,976.63 463.38,986.45 467.8,999.6 C472.22,1012.75 480.22,1037.68 482.7,1045.3" fill="none" stroke="rgba(0,0,0,0.08)" stroke-width="2" transform="translate(1,1.5)" clip-path="url(#c3)" stroke-linejoin="round"/>
<path d="M87.7,843 C88.98,845 92.67,852.08 95.4,855 C98.13,857.92 100.82,857.77 104.1,860.5 C107.38,863.23 112.25,868.12 115.1,871.4 C117.95,874.68 120.18,878.73 121.2,880.2 C121.63,882.93 122.82,892.85 123.8,896.6 C124.78,900.35 126.55,901.68 127.1,902.7 C127.65,902.48 129.85,901.62 130.4,901.4 C131.13,902.23 133.17,903.92 134.8,906.4 C136.43,908.88 139.3,914.65 140.2,916.3 C140.47,922.13 141.25,936 141.8,951.3 C142.35,966.6 142.73,997.97 143.5,1008.1 C144.27,1018.23 145.92,1011.43 146.4,1012.1 C147.38,1010.17 149.5,1003.72 152.3,1000.5 C155.1,997.28 157.88,995.53 163.2,992.8 C168.52,990.07 176.55,986.35 184.2,984.1 C191.85,981.85 198.85,980.68 209.1,979.3 C219.35,977.92 239.13,976.38 245.7,975.8 C252.27,975.22 248.03,975.8 248.5,975.8 C250.15,973.97 255.85,965.6 258.4,964.8 C260.95,964 261.8,967.13 263.8,971 C265.8,974.87 269.3,985.17 270.4,988 C271.33,987.72 272.88,987.68 276,986.3 C279.12,984.92 283.7,981.45 289.1,979.7 C294.5,977.95 301.1,977 308.4,975.8 C315.7,974.6 322.75,973.93 332.9,972.5 C343.05,971.07 360.65,969.05 369.3,967.2 C377.95,965.35 379.73,963.75 384.8,961.4 C389.87,959.05 395.28,956.13 399.7,953.1 C404.12,950.07 407.98,946.8 411.3,943.2 C414.62,939.6 417.38,935.93 419.6,931.5 C421.82,927.07 422.8,920.88 424.6,916.6 C426.4,912.32 428.73,906.9 430.4,905.8 C432.07,904.7 431.97,904.6 434.6,910 C437.23,915.4 442.6,928.8 446.2,938.2 C449.8,947.6 452.6,956.17 456.2,966.4 C459.8,976.63 463.38,986.45 467.8,999.6 C472.22,1012.75 480.22,1037.68 482.7,1045.3" fill="none" stroke="#e8825a" stroke-width="1.45" clip-path="url(#c3)" stroke-linejoin="round"/>
<path d="M557.5,829.8 C559.13,832.83 565.67,844.97 567.3,848 C567.48,854.27 567.85,868.38 568.4,885.6 C568.95,902.82 569.98,931.97 570.6,951.3 C571.22,970.63 571.67,983.57 572.1,1001.6 C572.53,1019.63 572.9,1045.65 573.2,1059.5 C573.5,1073.35 573.42,1077.58 573.9,1084.7 C574.38,1091.82 575.02,1096 576.1,1102.2 C577.18,1108.4 578.95,1117.17 580.4,1121.9 C581.85,1126.63 582.97,1126.95 584.8,1130.6 C586.63,1134.25 589.22,1138.68 591.4,1143.8 C593.58,1148.92 596.13,1156.93 597.9,1161.3 C599.67,1165.67 601.32,1168.55 602,1170 C651.08,1170.33 847.42,1171.67 896.5,1172 C897.78,1170.17 901.72,1164.67 904.2,1161 C906.68,1157.33 909.08,1153.67 911.4,1150 C913.72,1146.33 915.97,1142.67 918.1,1139 C920.23,1135.33 922.23,1131.67 924.2,1128 C926.17,1124.33 928.07,1120.67 929.9,1117 C931.73,1113.33 933.52,1109.67 935.2,1106 C936.88,1102.33 938.45,1098.67 940,1095 C941.55,1091.33 943.05,1087.67 944.5,1084 C945.95,1080.33 947.37,1076.67 948.7,1073 C950.03,1069.33 951.27,1065.67 952.5,1062 C953.73,1058.33 954.93,1054.67 956.1,1051 C957.27,1047.33 958.42,1043.67 959.5,1040 C960.58,1036.33 961.6,1032.67 962.6,1029 C963.6,1025.33 964.57,1021.67 965.5,1018 C966.43,1014.33 967.32,1010.67 968.2,1007 C969.08,1003.33 969.95,999.67 970.8,996 C971.65,992.33 972.48,988.67 973.3,985 C974.12,981.33 974.92,977.67 975.7,974 C976.48,970.33 977.25,966.67 978,963 C978.75,959.33 979.47,955.67 980.2,952 C980.93,948.33 981.67,944.67 982.4,941 C983.13,937.33 983.87,933.67 984.6,930 C985.33,926.33 986.05,922.67 986.8,919 C987.55,915.33 988.33,911.67 989.1,908 C989.87,904.33 990.6,900.67 991.4,897 C992.2,893.33 993.07,889.67 993.9,886 C994.73,882.33 995.98,876.83 996.4,875" fill="none" stroke="rgba(0,0,0,0.08)" stroke-width="2" transform="translate(1,1.5)" clip-path="url(#c4)" stroke-linejoin="round"/>
<path d="M557.5,829.8 C559.13,832.83 565.67,844.97 567.3,848 C567.48,854.27 567.85,868.38 568.4,885.6 C568.95,902.82 569.98,931.97 570.6,951.3 C571.22,970.63 571.67,983.57 572.1,1001.6 C572.53,1019.63 572.9,1045.65 573.2,1059.5 C573.5,1073.35 573.42,1077.58 573.9,1084.7 C574.38,1091.82 575.02,1096 576.1,1102.2 C577.18,1108.4 578.95,1117.17 580.4,1121.9 C581.85,1126.63 582.97,1126.95 584.8,1130.6 C586.63,1134.25 589.22,1138.68 591.4,1143.8 C593.58,1148.92 596.13,1156.93 597.9,1161.3 C599.67,1165.67 601.32,1168.55 602,1170 C651.08,1170.33 847.42,1171.67 896.5,1172 C897.78,1170.17 901.72,1164.67 904.2,1161 C906.68,1157.33 909.08,1153.67 911.4,1150 C913.72,1146.33 915.97,1142.67 918.1,1139 C920.23,1135.33 922.23,1131.67 924.2,1128 C926.17,1124.33 928.07,1120.67 929.9,1117 C931.73,1113.33 933.52,1109.67 935.2,1106 C936.88,1102.33 938.45,1098.67 940,1095 C941.55,1091.33 943.05,1087.67 944.5,1084 C945.95,1080.33 947.37,1076.67 948.7,1073 C950.03,1069.33 951.27,1065.67 952.5,1062 C953.73,1058.33 954.93,1054.67 956.1,1051 C957.27,1047.33 958.42,1043.67 959.5,1040 C960.58,1036.33 961.6,1032.67 962.6,1029 C963.6,1025.33 964.57,1021.67 965.5,1018 C966.43,1014.33 967.32,1010.67 968.2,1007 C969.08,1003.33 969.95,999.67 970.8,996 C971.65,992.33 972.48,988.67 973.3,985 C974.12,981.33 974.92,977.67 975.7,974 C976.48,970.33 977.25,966.67 978,963 C978.75,959.33 979.47,955.67 980.2,952 C980.93,948.33 981.67,944.67 982.4,941 C983.13,937.33 983.87,933.67 984.6,930 C985.33,926.33 986.05,922.67 986.8,919 C987.55,915.33 988.33,911.67 989.1,908 C989.87,904.33 990.6,900.67 991.4,897 C992.2,893.33 993.07,889.67 993.9,886 C994.73,882.33 995.98,876.83 996.4,875" fill="none" stroke="#93a37c" stroke-width="1.45" clip-path="url(#c4)" stroke-linejoin="round"/>
<path d="M582.5,822 C582.7,822.77 582.22,820.73 583.7,826.6 C585.18,832.47 588.3,847.37 591.4,857.2 C594.5,867.03 599.02,876.48 602.3,885.6 C605.58,894.72 608.55,903.15 611.1,911.9 C613.65,920.65 616.52,933.73 617.6,938.1 C617.78,940.3 618.25,945.47 618.7,951.3 C619.15,957.13 620.03,969.47 620.3,973.1 C621.32,976.02 624.65,985.48 626.4,990.6 C628.15,995.72 629.17,997.97 630.8,1003.8 C632.43,1009.63 635.3,1021.97 636.2,1025.6 C636.47,1037.27 637.32,1078.47 637.8,1095.6 C638.28,1112.73 638.73,1119.28 639.1,1128.4 C639.47,1137.52 639.57,1144.7 640,1150.3 C640.43,1155.9 641.2,1158.38 641.7,1162 C642.2,1165.62 642.78,1170.33 643,1172 C690,1172 878,1172 925,1172 C925.32,1172 925.75,1175.98 926.9,1172 C928.05,1168.02 930.25,1156.07 931.9,1148.1 C933.55,1140.13 935.2,1132.18 936.8,1124.2 C938.4,1116.22 939.97,1108.18 941.5,1100.2 C943.03,1092.22 944.52,1084.27 946,1076.3 C947.48,1068.33 948.95,1060.37 950.4,1052.4 C951.85,1044.43 953.28,1036.48 954.7,1028.5 C956.12,1020.52 957.53,1012.48 958.9,1004.5 C960.27,996.52 961.58,988.57 962.9,980.6 C964.22,972.63 965.53,964.67 966.8,956.7 C968.07,948.73 969.28,940.77 970.5,932.8 C971.72,924.83 972.93,916.88 974.1,908.9 C975.27,900.92 976.38,892.88 977.5,884.9 C978.62,876.92 979.72,868.97 980.8,861 C981.88,853.03 983.47,841.08 984,837.1" fill="none" stroke="rgba(0,0,0,0.08)" stroke-width="2" transform="translate(1,1.5)" clip-path="url(#c4)" stroke-linejoin="round"/>
<path d="M582.5,822 C582.7,822.77 582.22,820.73 583.7,826.6 C585.18,832.47 588.3,847.37 591.4,857.2 C594.5,867.03 599.02,876.48 602.3,885.6 C605.58,894.72 608.55,903.15 611.1,911.9 C613.65,920.65 616.52,933.73 617.6,938.1 C617.78,940.3 618.25,945.47 618.7,951.3 C619.15,957.13 620.03,969.47 620.3,973.1 C621.32,976.02 624.65,985.48 626.4,990.6 C628.15,995.72 629.17,997.97 630.8,1003.8 C632.43,1009.63 635.3,1021.97 636.2,1025.6 C636.47,1037.27 637.32,1078.47 637.8,1095.6 C638.28,1112.73 638.73,1119.28 639.1,1128.4 C639.47,1137.52 639.57,1144.7 640,1150.3 C640.43,1155.9 641.2,1158.38 641.7,1162 C642.2,1165.62 642.78,1170.33 643,1172 C690,1172 878,1172 925,1172 C925.32,1172 925.75,1175.98 926.9,1172 C928.05,1168.02 930.25,1156.07 931.9,1148.1 C933.55,1140.13 935.2,1132.18 936.8,1124.2 C938.4,1116.22 939.97,1108.18 941.5,1100.2 C943.03,1092.22 944.52,1084.27 946,1076.3 C947.48,1068.33 948.95,1060.37 950.4,1052.4 C951.85,1044.43 953.28,1036.48 954.7,1028.5 C956.12,1020.52 957.53,1012.48 958.9,1004.5 C960.27,996.52 961.58,988.57 962.9,980.6 C964.22,972.63 965.53,964.67 966.8,956.7 C968.07,948.73 969.28,940.77 970.5,932.8 C971.72,924.83 972.93,916.88 974.1,908.9 C975.27,900.92 976.38,892.88 977.5,884.9 C978.62,876.92 979.72,868.97 980.8,861 C981.88,853.03 983.47,841.08 984,837.1" fill="none" stroke="#e8825a" stroke-width="1.45" clip-path="url(#c4)" stroke-linejoin="round"/>
<rect x="58.5" y="332.5" width="433.5" height="408.5" fill="none" stroke="#999999" stroke-width="2"/>
<line x1="58.5" y1="741" x2="58.5" y2="748" stroke="#999999" stroke-width="1"/>
<line x1="120.5" y1="741" x2="120.5" y2="748" stroke="#999999" stroke-width="1"/>
<line x1="183" y1="741" x2="183" y2="748" stroke="#999999" stroke-width="1"/>
<line x1="244.5" y1="741" x2="244.5" y2="748" stroke="#999999" stroke-width="1"/>
<line x1="306.5" y1="741" x2="306.5" y2="748" stroke="#999999" stroke-width="1"/>
<line x1="368.5" y1="741" x2="368.5" y2="748" stroke="#999999" stroke-width="1"/>
<line x1="430.5" y1="741" x2="430.5" y2="748" stroke="#999999" stroke-width="1"/>
<line x1="492" y1="741" x2="492" y2="748" stroke="#999999" stroke-width="1"/>
<line x1="51.5" y1="333" x2="58.5" y2="333" stroke="#999999" stroke-width="1"/>
<line x1="51.5" y1="401.5" x2="58.5" y2="401.5" stroke="#999999" stroke-width="1"/>
<line x1="51.5" y1="469.5" x2="58.5" y2="469.5" stroke="#999999" stroke-width="1"/>
<line x1="51.5" y1="537.5" x2="58.5" y2="537.5" stroke="#999999" stroke-width="1"/>
<line x1="51.5" y1="605.5" x2="58.5" y2="605.5" stroke="#999999" stroke-width="1"/>
<line x1="51.5" y1="674.5" x2="58.5" y2="674.5" stroke="#999999" stroke-width="1"/>
<line x1="51.5" y1="741" x2="58.5" y2="741" stroke="#999999" stroke-width="1"/>
<rect x="560.5" y="332.5" width="434.0" height="408.5" fill="none" stroke="#999999" stroke-width="2"/>
<line x1="560.5" y1="741" x2="560.5" y2="748" stroke="#999999" stroke-width="1"/>
<line x1="622.5" y1="741" x2="622.5" y2="748" stroke="#999999" stroke-width="1"/>
<line x1="685" y1="741" x2="685" y2="748" stroke="#999999" stroke-width="1"/>
<line x1="747" y1="741" x2="747" y2="748" stroke="#999999" stroke-width="1"/>
<line x1="809" y1="741" x2="809" y2="748" stroke="#999999" stroke-width="1"/>
<line x1="870.5" y1="741" x2="870.5" y2="748" stroke="#999999" stroke-width="1"/>
<line x1="932.5" y1="741" x2="932.5" y2="748" stroke="#999999" stroke-width="1"/>
<line x1="994.5" y1="741" x2="994.5" y2="748" stroke="#999999" stroke-width="1"/>
<line x1="553.5" y1="333" x2="560.5" y2="333" stroke="#999999" stroke-width="1"/>
<line x1="553.5" y1="401.5" x2="560.5" y2="401.5" stroke="#999999" stroke-width="1"/>
<line x1="553.5" y1="469.5" x2="560.5" y2="469.5" stroke="#999999" stroke-width="1"/>
<line x1="553.5" y1="537.5" x2="560.5" y2="537.5" stroke="#999999" stroke-width="1"/>
<line x1="553.5" y1="605.5" x2="560.5" y2="605.5" stroke="#999999" stroke-width="1"/>
<line x1="553.5" y1="674.5" x2="560.5" y2="674.5" stroke="#999999" stroke-width="1"/>
<line x1="553.5" y1="741" x2="560.5" y2="741" stroke="#999999" stroke-width="1"/>
<rect x="59" y="825.5" width="433.5" height="342.5" fill="none" stroke="#999999" stroke-width="2"/>
<line x1="52" y1="825.5" x2="59" y2="825.5" stroke="#999999" stroke-width="1"/>
<line x1="52" y1="894.5" x2="59" y2="894.5" stroke="#999999" stroke-width="1"/>
<line x1="52" y1="962.5" x2="59" y2="962.5" stroke="#999999" stroke-width="1"/>
<line x1="52" y1="1030.5" x2="59" y2="1030.5" stroke="#999999" stroke-width="1"/>
<line x1="52" y1="1098.5" x2="59" y2="1098.5" stroke="#999999" stroke-width="1"/>
<line x1="52" y1="1166" x2="59" y2="1166" stroke="#999999" stroke-width="1"/>
<rect x="555.5" y="825.5" width="439.0" height="351.5" fill="none" stroke="#999999" stroke-width="2"/>
<line x1="548.5" y1="825.5" x2="555.5" y2="825.5" stroke="#999999" stroke-width="1"/>
<line x1="548.5" y1="884.5" x2="555.5" y2="884.5" stroke="#999999" stroke-width="1"/>
<line x1="548.5" y1="942.5" x2="555.5" y2="942.5" stroke="#999999" stroke-width="1"/>
<line x1="548.5" y1="1000.5" x2="555.5" y2="1000.5" stroke="#999999" stroke-width="1"/>
<line x1="548.5" y1="1059.5" x2="555.5" y2="1059.5" stroke="#999999" stroke-width="1"/>
<line x1="548.5" y1="1118.5" x2="555.5" y2="1118.5" stroke="#999999" stroke-width="1"/>
<text x="213.4" y="318.7" font-size="36" fill="#5c5c5c" stroke="#5c5c5c" stroke-width="0.3" textLength="90.20000000000002" lengthAdjust="spacingAndGlyphs">Cl/Cd</text>
<text x="691.4" y="318.5" font-size="36" fill="#5c5c5c" stroke="#5c5c5c" stroke-width="0.3" textLength="136.85000000000002" lengthAdjust="spacingAndGlyphs">Cl/alpha</text>
<text x="181.4" y="811.9" font-size="36" fill="#5c5c5c" stroke="#5c5c5c" stroke-width="0.3" textLength="155.99999999999997" lengthAdjust="spacingAndGlyphs">Cm/alpha</text>
<text x="687.9" y="811.9" font-size="36" fill="#5c5c5c" stroke="#5c5c5c" stroke-width="0.3" textLength="146.70000000000005" lengthAdjust="spacingAndGlyphs">Cd/alpha</text>
<text x="46" y="339.0" font-size="16" fill="#666666" text-anchor="end">2.00</text>
<text x="46" y="407.5" font-size="16" fill="#666666" text-anchor="end">1.50</text>
<text x="46" y="475.5" font-size="16" fill="#666666" text-anchor="end">1.00</text>
<text x="46" y="543.5" font-size="16" fill="#666666" text-anchor="end">0.50</text>
<text x="46" y="611.5" font-size="16" fill="#666666" text-anchor="end">0.00</text>
<text x="46" y="680.5" font-size="16" fill="#666666" text-anchor="end">0.50</text>
<text x="46" y="747.0" font-size="16" fill="#666666" text-anchor="end">1.00</text>
<text x="548" y="339.0" font-size="16" fill="#666666" text-anchor="end">2.00</text>
<text x="548" y="407.5" font-size="16" fill="#666666" text-anchor="end">1.50</text>
<text x="548" y="475.5" font-size="16" fill="#666666" text-anchor="end">1.00</text>
<text x="548" y="543.5" font-size="16" fill="#666666" text-anchor="end">0.50</text>
<text x="548" y="611.5" font-size="16" fill="#666666" text-anchor="end">0.00</text>
<text x="548" y="680.5" font-size="16" fill="#666666" text-anchor="end">-0.50</text>
<text x="548" y="747.0" font-size="16" fill="#666666" text-anchor="end">-1.00</text>
<rect x="14" y="673.6999999999999" width="1.3" height="1.3" fill="#666"/>
<rect x="14" y="741.8" width="1.3" height="1.3" fill="#666"/>
<text x="57.5" y="771.2" font-size="16" fill="#666666" text-anchor="middle">0.00</text>
<text x="119.5" y="771.2" font-size="16" fill="#666666" text-anchor="middle">0.02</text>
<text x="182" y="771.2" font-size="16" fill="#666666" text-anchor="middle">0.04</text>
<text x="243.5" y="771.2" font-size="16" fill="#666666" text-anchor="middle">0.06</text>
<text x="305.5" y="771.2" font-size="16" fill="#666666" text-anchor="middle">0.08</text>
<text x="367.5" y="771.2" font-size="16" fill="#666666" text-anchor="middle">0.10</text>
<text x="429.5" y="771.2" font-size="16" fill="#666666" text-anchor="middle">0.12</text>
<text x="491" y="771.2" font-size="16" fill="#666666" text-anchor="middle">0.14</text>
<text x="553.5" y="771.2" font-size="16" fill="#666666" text-anchor="middle">0.16</text>
<svg x="500" y="740" width="506" height="50" overflow="hidden">
<text x="59.5" y="31.2" font-size="16" fill="#666666" text-anchor="middle">-15.00</text>
<text x="121.5" y="31.2" font-size="16" fill="#666666" text-anchor="middle">-10.00</text>
<text x="184" y="31.2" font-size="16" fill="#666666" text-anchor="middle">-5.00</text>
<text x="246" y="31.2" font-size="16" fill="#666666" text-anchor="middle">0.00</text>
<text x="308" y="31.2" font-size="16" fill="#666666" text-anchor="middle">5.00</text>
<text x="369.5" y="31.2" font-size="16" fill="#666666" text-anchor="middle">10.00</text>
<text x="431.5" y="31.2" font-size="16" fill="#666666" text-anchor="middle">15.00</text>
<text x="493.5" y="31.2" font-size="16" fill="#666666" text-anchor="middle">20.00</text>
</svg>
<text x="47" y="831.5" font-size="16" fill="#666666" text-anchor="end">0.02</text>
<text x="47" y="900.5" font-size="16" fill="#666666" text-anchor="end">0.00</text>
<text x="47" y="968.5" font-size="16" fill="#666666" text-anchor="end">0.02</text>
<text x="47" y="1036.5" font-size="16" fill="#666666" text-anchor="end">0.04</text>
<text x="47" y="1104.5" font-size="16" fill="#666666" text-anchor="end">0.06</text>
<text x="47" y="1172.0" font-size="16" fill="#666666" text-anchor="end">0.08</text>
<rect x="14" y="962.4" width="1.3" height="1.3" fill="#666"/>
<rect x="14" y="1030.4" width="1.3" height="1.3" fill="#666"/>
<rect x="14" y="1098.4" width="1.3" height="1.3" fill="#666"/>
<rect x="14" y="1166.4" width="1.3" height="1.3" fill="#666"/>
<text x="544.5" y="831.5" font-size="16" fill="#666666" text-anchor="end">0.14</text>
<text x="544.5" y="890.5" font-size="16" fill="#666666" text-anchor="end">0.12</text>
<text x="544.5" y="948.5" font-size="16" fill="#666666" text-anchor="end">0.10</text>
<text x="544.5" y="1006.5" font-size="16" fill="#666666" text-anchor="end">0.08</text>
<text x="544.5" y="1065.5" font-size="16" fill="#666666" text-anchor="end">0.06</text>
<text x="544.5" y="1124.5" font-size="16" fill="#666666" text-anchor="end">0.04</text>
<rect x="0" y="279" width="3" height="13" fill="#6a7fa8"/>
<rect x="0" y="292" width="3" height="25" fill="#4a73c9"/>
<rect x="0" y="317" width="3" height="97" fill="#dedede"/>
<rect x="0" y="376" width="3" height="1" fill="#9a9a9a"/>
<rect x="0" y="413" width="3" height="1" fill="#b0b0b0"/>
<rect x="14" y="782" width="1" height="25" fill="#6f8aa6"/>
<rect x="14" y="807" width="1" height="96" fill="#cfd6de"/>
<rect x="0" y="808" width="3" height="1" fill="#777"/>
<rect x="0" y="876" width="3" height="1" fill="#777"/>
<rect x="0" y="989" width="3" height="69" fill="#e8e8e4"/>
<rect x="0" y="1006" width="3" height="1.5" fill="#555"/>
<rect x="1023" y="855" width="1" height="67" fill="#3a3a3a"/>
<rect x="529.5" y="779" width="1.5" height="1.5" fill="#555"/>
<rect x="537" y="779" width="1" height="1" fill="#777"/>
</svg>
</body></html>
